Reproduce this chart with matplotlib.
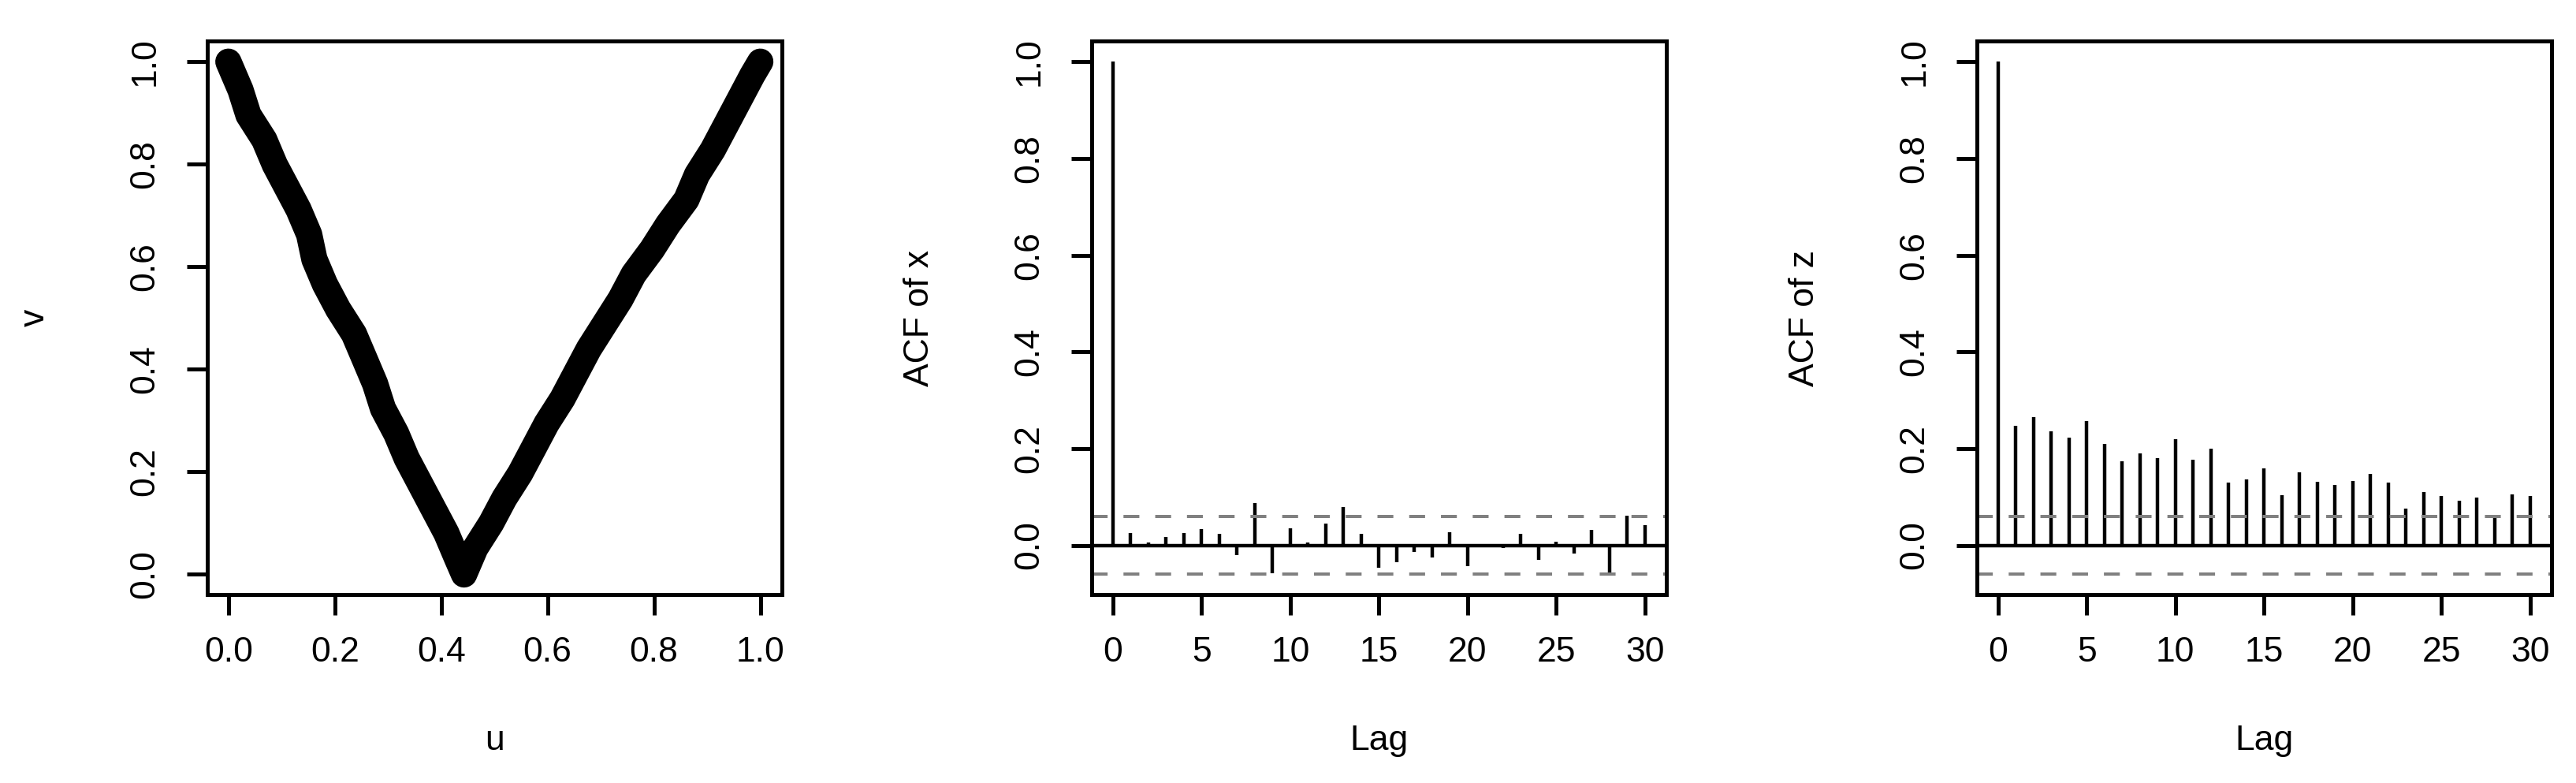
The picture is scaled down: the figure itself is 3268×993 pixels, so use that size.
import matplotlib
matplotlib.use("Agg")
import matplotlib.pyplot as plt

# ---------------------------------------------------------------------------
# Datos
# ---------------------------------------------------------------------------
# Panel 1: curva en V (u, v)
u_vals = [0.0, 0.0228, 0.0377, 0.0675, 0.0873, 0.1121, 0.1319, 0.1518, 0.1617,
          0.1815, 0.2063, 0.2361, 0.2560, 0.2758, 0.2907, 0.3155, 0.3353, 0.3601,
          0.3849, 0.4097, 0.4296, 0.4430,
          0.4643, 0.4940, 0.5188, 0.5486, 0.5734, 0.5982, 0.6280, 0.6528, 0.6776,
          0.7073, 0.7371, 0.7619, 0.7966, 0.8264, 0.8611, 0.8810, 0.9107, 0.9355,
          0.9603, 0.9851, 1.0]
v_vals = [1.0, 0.9447, 0.8961, 0.8476, 0.7990, 0.7505, 0.7117, 0.6631, 0.6146,
          0.5660, 0.5175, 0.4689, 0.4204, 0.3718, 0.3233, 0.2748, 0.2262, 0.1777,
          0.1291, 0.0806, 0.0320, 0.0,
          0.0515, 0.1000, 0.1485, 0.1971, 0.2456, 0.2942, 0.3427, 0.3913, 0.4398,
          0.4883, 0.5369, 0.5854, 0.6340, 0.6825, 0.7311, 0.7796, 0.8282, 0.8767,
          0.9252, 0.9738, 1.0]

# Paneles 2 y 3: autocorrelaciones (lags 0..30)
lags = list(range(31))
acf_x = [1.0, 0.0255, 0.0065, 0.0174, 0.0260, 0.0340, 0.0233, -0.0206, 0.0879,
         -0.0586, 0.0353, 0.0065, 0.0445, 0.0792, 0.0244, -0.0467, -0.0353,
         -0.0141, -0.0244, 0.0271, -0.0429, 0.0010, -0.0054, 0.0244, -0.0304,
         0.0081, -0.0168, 0.0320, -0.0564, 0.0619, 0.0418]
acf_z = [1.0, 0.2469, 0.2653, 0.2360, 0.2230, 0.2572, 0.2094, 0.1742, 0.1899,
         0.1796, 0.2192, 0.1769, 0.1991, 0.1302, 0.1367, 0.1595, 0.1031, 0.1503,
         0.1313, 0.1243, 0.1324, 0.1476, 0.1291, 0.0760, 0.1101, 0.1015, 0.0917,
         0.0982, 0.0619, 0.1053, 0.1015]
ci = 0.0602  # banda de confianza

# ---------------------------------------------------------------------------
# Estilo
# ---------------------------------------------------------------------------
plt.rcParams["font.family"] = ["Liberation Sans", "DejaVu Sans"]
FS = 32
LW_FRAME = 3.6
LW_BAR = 3.2
GREY = "#808080"

fig = plt.figure(figsize=(32.68, 9.93), dpi=100)

W, H, B = 0.2230, 0.7072, 0.2402
lefts = [0.0804, 0.4238, 0.7674]


def style_axes(ax, xlabel, ylabel):
    for sp in ax.spines.values():
        sp.set_linewidth(LW_FRAME)
    ax.tick_params(axis="both", length=19, width=LW_FRAME, labelsize=FS)
    ax.tick_params(axis="x", pad=19)
    ax.tick_params(axis="y", pad=23)
    for lab in ax.get_yticklabels():
        lab.set_rotation(90)
        lab.set_va("center")
    ax.set_xlabel(xlabel, fontsize=FS, va="center")
    ax.set_ylabel(ylabel, fontsize=FS, va="center")
    ax.xaxis.set_label_coords(0.5, -0.2635)
    ax.yaxis.set_label_coords(-0.300, 0.5)


# Panel 1 -------------------------------------------------------------------
ax1 = fig.add_axes([lefts[0], B, W, H])
ax1.plot(u_vals, v_vals, color="black", lw=24,
         solid_capstyle="round", solid_joinstyle="round")
ax1.set_xlim(-0.04, 1.04)
ax1.set_ylim(-0.04, 1.04)
ticks = [0.0, 0.2, 0.4, 0.6, 0.8, 1.0]
ax1.set_xticks(ticks)
ax1.set_yticks(ticks)
ax1.set_xticklabels([f"{t:.1f}" for t in ticks])
ax1.set_yticklabels([f"{t:.1f}" for t in ticks])
style_axes(ax1, "u", "v")


# Paneles ACF -----------------------------------------------------------------
def acf_panel(left, values, ylabel):
    ax = fig.add_axes([left, B, W, H])
    ax.vlines(lags, 0, values, color="black", lw=LW_BAR)
    ax.axhline(0, color="black", lw=LW_BAR)
    for y in (ci, -ci):
        ax.axhline(y, color=GREY, lw=2.9, linestyle=(0, (5, 5)))
    ymin = min(-ci, min(values))
    rng = 1 - ymin
    ax.set_ylim(ymin - 0.04 * rng, 1 + 0.04 * rng)
    ax.set_xlim(-0.04 * 30, 30 * 1.04)
    ax.set_xticks(range(0, 31, 5))
    ax.set_yticks(ticks)
    ax.set_yticklabels([f"{t:.1f}" for t in ticks])
    style_axes(ax, "Lag", ylabel)
    return ax


acf_panel(lefts[1], acf_x, "ACF of x")
acf_panel(lefts[2], acf_z, "ACF of z")

fig.savefig("out.png", dpi=100)
